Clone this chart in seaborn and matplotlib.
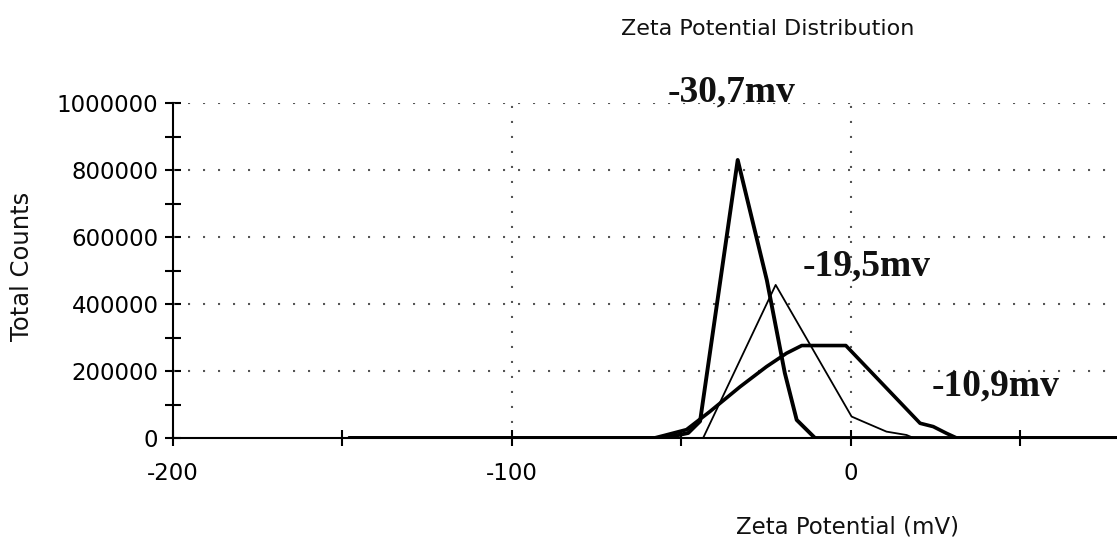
import matplotlib
matplotlib.use("Agg")
import matplotlib.pyplot as plt
import numpy as np
import pandas as pd
import seaborn as sns
from matplotlib.ticker import FixedLocator, FuncFormatter

sns.set_theme(style="white")
plt.rcParams['font.family'] = ['DejaVu Sans']

# ---- data ----
x_307 = [-148, -55, -48, -44.5, -33.4, -24.8, -19.5, -16.0, -12.1, -10.6, 80]
y_307 = [0, 0, 15000, 50000, 830000, 471000, 194000, 54000, 15000, 0, 0]

x_195 = [-148, -43.6, -22.2, 0.2, 3.6, 10.5, 16.4, 18.5, 80]
y_195 = [0, 0, 457000, 64000, 49000, 19000, 9000, 0, 0]

x_109 = [-148, -58, -54.9, -48.5, -41.6, -32.7, -24.9, -19.0, -14.5, -1.5, 20.4, 24.3, 28.2, 31.2, 80]
y_109 = [0, 0, 8000, 25000, 79000, 153000, 213000, 253000, 276000, 276000, 44000, 34000, 14000, 0, 0]

labels = ["-30,7mv", "-19,5mv", "-10,9mv"]
label_x = [-35.2, 4.6, 42.8]
label_y = [1005000, 486500, 128000]

x_ticks = [-200, -150, -100, -50, 0, 50]
x_ticklabels = ["-200", "", "-100", "", "0", ""]
y_ticks = [0, 100000, 200000, 300000, 400000, 500000, 600000, 700000, 800000, 900000, 1000000]
y_grid = [200000, 400000, 600000, 800000, 1000000]
x_grid = [-100, 0]

title = "Zeta Potential Distribution"
xlabel = "Zeta Potential (mV)"
ylabel = "Total Counts"

# ---- figure ----
fig = plt.figure(figsize=(11.17, 5.39), dpi=100)
ax = fig.add_axes([173/1117, 1-438/539, 1-173/1117, (438-103)/539])

dot = (0, (1, 6.2))
for yg in y_grid:
    ax.axhline(yg, color="#555555", lw=1.5, linestyle=dot, zorder=1)
for xg in x_grid:
    ax.axvline(xg, color="#555555", lw=1.5, linestyle=dot, zorder=1)

series = [
    (x_307, y_307, 2.8),
    (x_195, y_195, 1.3),
    (x_109, y_109, 2.6),
]
for xs, ys, lw in series:
    df = pd.DataFrame({"x": xs, "y": ys})
    sns.lineplot(data=df, x="x", y="y", ax=ax, color="black", linewidth=lw,
                 sort=False, estimator=None, zorder=3)

ax.set_xlim(-200, 78.5)
ax.set_ylim(0, 1000000)

for lab, lx, ly in zip(labels, label_x, label_y):
    ax.text(lx, ly, lab, ha="center", va="baseline", fontsize=27,
            fontweight="bold", family="Liberation Serif", color="#111111",
            clip_on=False, zorder=4)

ax.xaxis.set_major_locator(FixedLocator(x_ticks))
ax.set_xticklabels(x_ticklabels)
ax.yaxis.set_major_locator(FixedLocator(y_ticks))
ax.yaxis.set_major_formatter(FuncFormatter(lambda v, p: f"{int(v)}" if int(v) % 200000 == 0 else ""))

ax.tick_params(axis="x", direction="inout", length=11, width=1.5, pad=12,
               labelsize=16.5, colors="black", bottom=True)
ax.tick_params(axis="y", direction="inout", length=11, width=1.5, pad=5,
               labelsize=16.5, colors="black", left=True)

for s in ["top", "right"]:
    ax.spines[s].set_visible(False)
for s in ["left", "bottom"]:
    ax.spines[s].set_color("black")
    ax.spines[s].set_linewidth(1.5)
ax.set_xlabel("")
ax.set_ylabel("")

fig.text(768/1117, 1-35/539, title, ha="center", va="baseline", fontsize=16, color="#111111")
fig.text(848/1117, 1-533/539, xlabel, ha="center", va="baseline", fontsize=16.5, color="#111111")
fig.text(22/1117, 1-266/539, ylabel, ha="center", va="center", rotation=90, fontsize=17.5, color="#111111")

fig.savefig("out.png", dpi=100, facecolor="white")
